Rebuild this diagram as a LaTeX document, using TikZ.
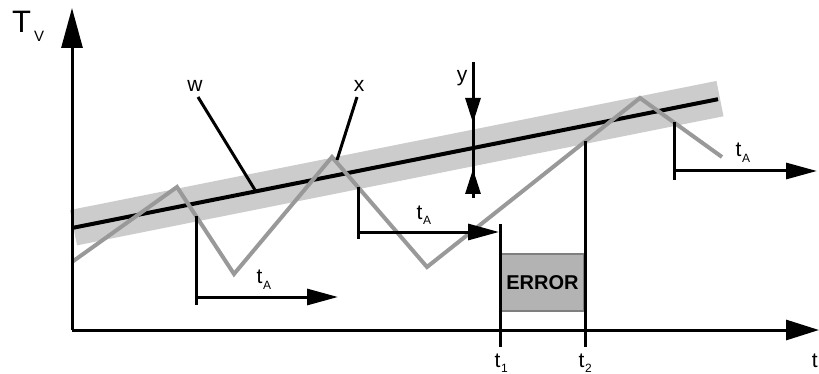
\documentclass[tikz,border=0pt]{standalone}
\usepackage{fontspec}
\setmainfont{Liberation Sans}
\usetikzlibrary{arrows.meta}
\definecolor{bandgray}{HTML}{CCCCCC}
\definecolor{ziggray}{HTML}{999999}
\definecolor{errfill}{HTML}{B3B3B3}
\definecolor{errdraw}{HTML}{7F7F7F}
\newcommand{\tsub}[3]{\fontsize{21}{21}\selectfont #1\hspace{0.5pt}\raisebox{#3}{\fontsize{12}{12}\selectfont #2}}
\begin{document}
\begin{tikzpicture}[x=1pt,y=-1pt,
  axisv/.style={line width=3pt,-{Triangle[length=40pt,width=21pt]}},
  axish/.style={line width=3pt,-{Triangle[length=33pt,width=20pt]}},
  tarrow/.style={line width=3pt,-{Triangle[length=31pt,width=16pt]}},
  yarrow/.style={line width=3pt,-{Triangle[length=25pt,width=15pt]}},
  plain/.style={line width=3pt},
  band/.style={line width=36pt,bandgray},
  mainline/.style={line width=4pt,black},
  zig/.style={line width=4pt,ziggray,line join=miter},
  txt/.style={inner sep=0pt,font=\fontsize{21}{21}\selectfont},
  errbox/.style={draw=errdraw,line width=1.5pt,fill=errfill,minimum width=83pt,minimum height=57pt,inner sep=0pt,font=\fontsize{20}{20}\selectfont\bfseries}
]
\useasboundingbox (0,0) rectangle (819,374);

% coordinates
\coordinate (O) at (72,330);
\coordinate (Ytop) at (72,8);
\coordinate (Xend) at (819,330);
\coordinate (B1) at (73.5,227.7);
\coordinate (B2) at (720,98.6);
\coordinate (L1) at (72,228);
\coordinate (L2) at (718,99.2);
\coordinate (z0) at (72,262);
\coordinate (z1) at (177,187);
\coordinate (z2) at (234,274);
\coordinate (z3) at (332,157);
\coordinate (z4) at (427,267);
\coordinate (z5) at (640,98);
\coordinate (z6) at (722,157);

% band and main line
\draw[band] (B1) -- (B2);
\draw[mainline] (L1) -- (L2);
\draw[zig] (z0) -- (z1) -- (z2) -- (z3) -- (z4) -- (z5) -- (z6);

% axes
\draw[axisv] (O) -- (Ytop);
\draw[axish] (O) -- (Xend);
\node[anchor=base west,inner sep=0pt] (TV) at (12,33) {\fontsize{31}{31}\selectfont T\hspace{3pt}\raisebox{-9pt}{\fontsize{15}{15}\selectfont V}};
\node[txt,anchor=base east] (tax) at (818,367) {t};

% error box and t1, t2
\coordinate (t1top) at (500,224);
\coordinate (t1bot) at (500,347);
\coordinate (t2top) at (585,141);
\coordinate (t2bot) at (585,347);
\node[errbox] (err) at (542.5,282.5) {ERROR};
\draw[plain] (t1top) -- (t1bot);
\draw[plain] (t2top) -- (t2bot);
\node[anchor=base west,inner sep=0pt] (t1) at (494.5,367) {\tsub{t}{1}{-5pt}};
\node[anchor=base west,inner sep=0pt] (t2) at (578.5,367) {\tsub{t}{2}{-5pt}};

% tA brackets
\coordinate (a1top) at (196,216);
\coordinate (a1bot) at (196,305);
\coordinate (a1s) at (196,297);
\coordinate (a1e) at (338,297);
\draw[plain] (a1top) -- (a1bot);
\draw[tarrow] (a1s) -- (a1e);
\node[anchor=base west,inner sep=0pt] (tA1) at (256.5,283) {\tsub{t}{A}{-6pt}};

\coordinate (a2top) at (358,187);
\coordinate (a2bot) at (358,239);
\coordinate (a2s) at (358,232);
\coordinate (a2e) at (499,232);
\draw[plain] (a2top) -- (a2bot);
\draw[tarrow] (a2s) -- (a2e);
\node[anchor=base west,inner sep=0pt] (tA2) at (416.5,220) {\tsub{t}{A}{-5pt}};

\coordinate (a3top) at (674,122);
\coordinate (a3bot) at (674,180);
\coordinate (a3s) at (674,171);
\coordinate (a3e) at (817,171);
\draw[plain] (a3top) -- (a3bot);
\draw[tarrow] (a3s) -- (a3e);
\node[anchor=base west,inner sep=0pt] (tA3) at (735.5,157) {\tsub{t}{A}{-6pt}};

% y marker
\coordinate (yt) at (473,62);
\coordinate (yb) at (473,198);
\draw[plain] (yt) -- (yb);
\draw[yarrow] (yt) -- (473,123);
\draw[yarrow] (yb) -- (473,169);
\node[txt,anchor=base] (ylab) at (462,82) {y};

% w and x labels
\node[txt,anchor=base] (wlab) at (195,92) {w};
\node[txt,anchor=base] (xlab) at (359,92) {x};
\coordinate (wp) at (255,190);
\coordinate (xp) at (337,160);
\draw[plain] (198,97) -- (wp);
\draw[plain] (357,97) -- (xp);
\end{tikzpicture}
\end{document}
